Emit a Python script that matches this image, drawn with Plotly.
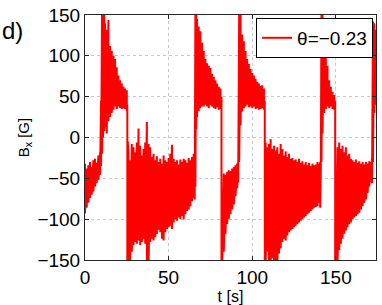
import plotly.graph_objects as go

# knot times [s] with the upper / lower envelope of the noisy Bx trace [G]
t_knots = [
    0, 1, 2, 3, 4, 5, 6, 7, 8, 9,
    9.6, 10.2, 10.8,
    11.5, 12, 13, 14, 15, 16, 17, 18, 19, 20, 21, 22, 23, 24, 25,
    25.3, 25.6,
    26, 27, 28, 29, 30, 31, 32, 33, 34, 35, 36, 37, 38, 39, 40, 41, 42, 43, 44, 45,
    46, 47, 48, 49, 50, 51, 52, 53, 54, 55, 56, 57, 58, 59, 60, 61, 62, 63, 64, 65,
    65.6, 66.0, 66.5,
    67, 68, 69, 70, 71, 72, 73, 74, 75, 76, 77, 78, 79, 80, 81,
    81.6, 82.0,
    83, 84, 85, 86, 87, 88, 89, 90, 91,
    91.6, 92.2, 93.0,
    94, 95, 96, 97, 98, 99, 100, 101, 102, 103, 104, 105, 106, 107,
    107.5, 107.9,
    108, 109, 110, 111, 112, 113, 114, 115, 116, 117, 118, 119, 120, 121, 122, 123, 124,
    125, 126, 127, 128, 129, 130, 131, 132, 133, 134, 135, 136, 137, 138, 139, 140,
    140.6, 141.0, 141.4, 142.0,
    143, 144, 145, 146, 147, 148, 149,
    149.6, 150.0,
    151, 152, 153, 154, 155, 156, 157, 158, 159, 160, 161, 162, 163, 164, 165, 166,
    167, 168, 169, 170, 171,
    171.6, 172.2, 173, 174,
]
b_hi = [
    -32, -38, -34, -30, -36, -28, -26, -31, -22, -18,
    45, 160, 160,
    160, 140, 132, 144, 112, 106, 100, 96, 86, 76, 70, 66, 62, 60, 58,
    40, -5,
    -20, -28, -8, -12, -18, -6, 11, -10, -22, -14, -6, 19, -8, -12, -24, -20, -28, -23, -30, -26,
    -32, -22, -28, -30, -25, -20, -9, -26, -30, -28, -33, -27, -30, -26, -28, -31, -25, -28, -24, -20,
    -20, 155, 150,
    145, 136, 130, 116, 106, 96, 91, 88, 85, 78, 74, 70, 66, 62, 60,
    50, -38,
    -44, -46, -42, -40, -41, -38, -36, -34, -32,
    -28, 160, 160,
    126, 118, 106, 96, 90, 84, 79, 76, 72, 68, 66, 63, 64, 60,
    45, -4,
    -6, -12, -8, -2, -14, -10, -16, -12, -20, -8, -14, -22, -17, -24, -20, -26, -25,
    -28, -27, -30, -26, -31, -29, -33, -30, -34, -31, -35, -32, -34, -33, -30, -32,
    -30, -30, 160, 150,
    122, 104, 88, 70, 62, 56, 52,
    45, -8,
    -12, -6, -14, -10, -18, -12, -22, -20, -26, -28, -30, -27, -31, -29, -32, -30,
    -33, -30, -32, -29, -30,
    -25, 142, 140, 132,
]
b_lo = [
    -93, -86, -80, -74, -70, -66, -60, -56, -52, -46,
    -35, -20, 0,
    8, 12, 5, 20, 25, 30, 34, 38, 35, 38, 36, 35, 36, 35, 32,
    -160, -160,
    -160, -150, -140, -132, -128, -130, -126, -132, -128, -124, -130, -150, -160, -128, -124, -126, -122, -118, -113, -116,
    -124, -126, -116, -112, -110, -108, -112, -104, -100, -102, -98, -100, -96, -100, -94, -90, -88, -84, -78, -74,
    -76, -60, 10,
    25, 32, 36, 38, 38, 40, 38, 36, 40, 38, 36, 35, 37, 34, 35,
    -160, -160,
    -140, -118, -106, -100, -94, -88, -82, -72, -62,
    -55, -30, 15,
    32, 36, 38, 40, 37, 38, 36, 38, 35, 36, 34, 35, 36, 34,
    -160, -160,
    -160, -140, -150, -160, -148, -160, -150, -160, -142, -136, -128, -124, -126, -120, -116, -114, -112,
    -110, -108, -106, -104, -102, -100, -98, -96, -94, -92, -90, -88, -86, -85, -84, -80,
    -86, -40, -30, 5,
    30, 35, 38, 36, 38, 35, 34,
    -160, -160,
    -160, -138, -130, -124, -118, -114, -110, -106, -104, -100, -98, -96, -94, -92, -88, -84,
    -80, -76, -68, -60, -54,
    -56, -30, 30, 40,
]
assert len(t_knots) == len(b_hi) == len(b_lo)

x_ticks = [0, 50, 100, 150]
y_ticks = [-150, -100, -50, 0, 50, 100, 150]

# trace swings between envelope values at each knot
xs, ys = [], []
for t, hi, lo in zip(t_knots, b_hi, b_lo):
    xs += [t, t]
    ys += [hi, lo]

fig = go.Figure()
fig.add_trace(
    go.Scatter(
        x=xs,
        y=ys,
        mode="lines",
        line=dict(color="#ff0000", width=2),
        name="θ=−0.23",
    )
)

axis_style = dict(
    automargin=False,
    showline=True,
    linecolor="#262626",
    linewidth=1,
    mirror="ticks",
    ticks="inside",
    ticklen=4,
    tickcolor="#262626",
    showgrid=True,
    gridcolor="#c8c8c8",
    griddash="dot",
    gridwidth=1,
    zeroline=False,
    tickfont=dict(family="Liberation Sans", size=19, color="black"),
)

fig.update_xaxes(
    range=[0, 174],
    tickvals=x_ticks,
    title=dict(text="t [s]", font=dict(family="Liberation Sans", size=16, color="black"), standoff=0),
    **axis_style,
)
fig.update_yaxes(
    range=[-150, 150],
    tickvals=y_ticks,
    ticktext=[str(v).replace("-", "−") for v in y_ticks],
    title=dict(text="B<sub>x</sub> [G]", font=dict(family="Liberation Sans", size=15, color="black"), standoff=4),
    **axis_style,
)

fig.add_annotation(
    text="d)",
    xref="paper",
    yref="paper",
    x=-0.292,
    y=0.935,
    xanchor="left",
    yanchor="middle",
    showarrow=False,
    font=dict(family="Liberation Sans", size=24, color="black"),
)

fig.update_layout(
    width=382,
    height=305,
    margin=dict(l=85, r=6, t=15, b=45),
    plot_bgcolor="white",
    paper_bgcolor="white",
    showlegend=True,
    legend=dict(
        x=0.99,
        y=0.988,
        xanchor="right",
        yanchor="top",
        bgcolor="white",
        bordercolor="black",
        borderwidth=1,
        font=dict(family="Liberation Sans", size=19, color="black"),
        itemwidth=30,
        tracegroupgap=0,
    ),
)

# drop the browser's default 8px body margin so the figure sits at the page corner
fig.write_html(
    "out.html",
    config={"displayModeBar": False},
    post_script="document.body.style.margin='0';",
)
